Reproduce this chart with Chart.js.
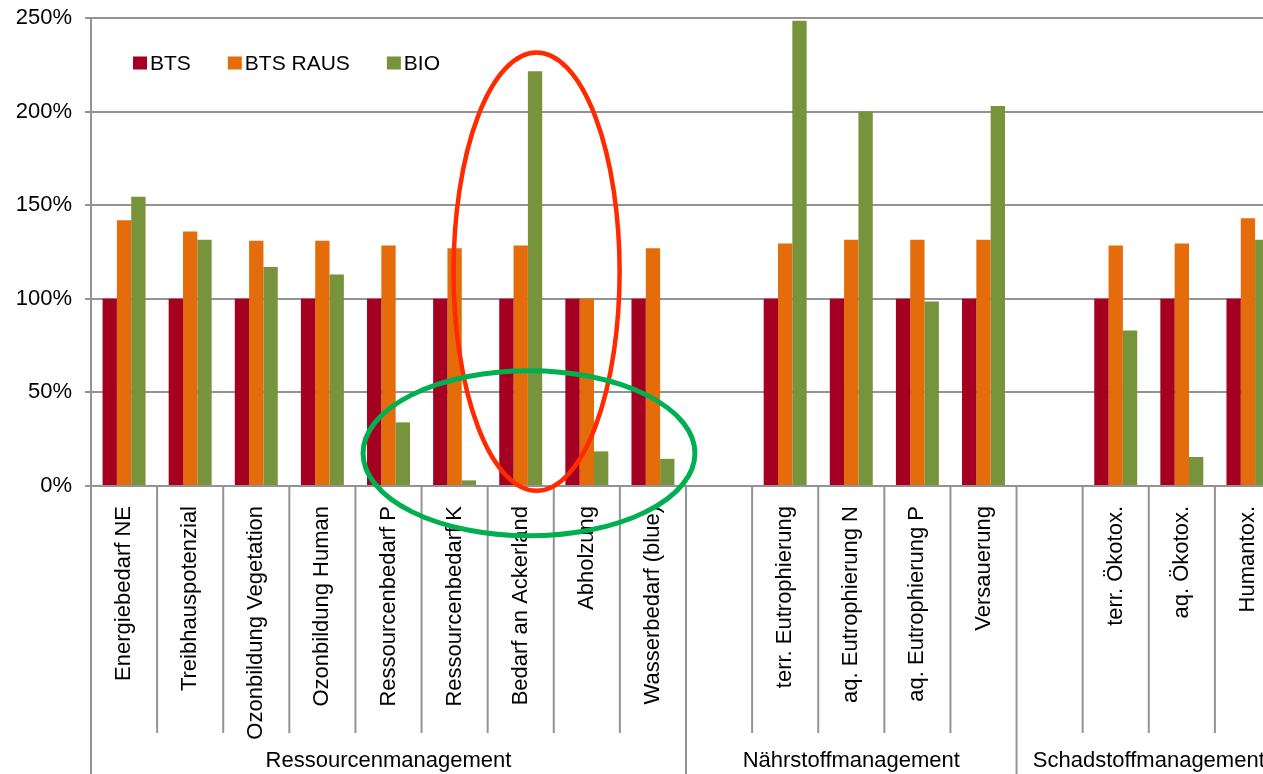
<!DOCTYPE html>
<html>
<head>
<meta charset="utf-8">
<script src="https://cdn.jsdelivr.net/npm/chart.js@4.4.1/dist/chart.umd.min.js"></script>
<style>
  html, body { margin: 0; padding: 0; background: #fff; overflow: hidden; }
  #wrap { width: 1300px; height: 774px; }
</style>
</head>
<body>
<div id="wrap"><canvas id="c" width="1300" height="774"></canvas></div>
<script>
// Impact categories (empty strings are spacer columns between the groups)
const categories = [
  'Energiebedarf NE', 'Treibhauspotenzial', 'Ozonbildung Vegetation', 'Ozonbildung Human',
  'Ressourcenbedarf P', 'Ressourcenbedarf K', 'Bedarf an Ackerland', 'Abholzung',
  'Wasserbedarf (blue)', '',
  'terr. Eutrophierung', 'aq. Eutrophierung N', 'aq. Eutrophierung P', 'Versauerung', '',
  'terr. Ökotox.', 'aq. Ökotox.', 'Humantox.'
];

// Group headings and how many columns each one spans
const groupNames = ['Ressourcenmanagement', 'Nährstoffmanagement', 'Schadstoffmanagement'];
const groupSizes = [9, 5, 4];

const seriesNames = ['BTS', 'BTS RAUS', 'BIO'];
const seriesColors = ['#A50021', '#E46C0A', '#77933C'];

// Values in % relative to BTS
const valuesBTS = [100, 100, 100, 100, 100, 100, 100, 100, 100, null, 100, 100, 100, 100, null, 100, 100, 100];
const valuesBTSRaus = [142, 136, 131, 131, 128.5, 127, 128.5, 100, 127, null, 129.5, 131.5, 131.5, 131.5, null, 128.5, 129.5, 143];
const valuesBIO = [154.5, 131.5, 117, 113, 34, 3, 221.5, 18.5, 14.5, null, 248.5, 200, 98.5, 203, null, 83, 15.5, 131.5];

// y-axis ticks
const yTicks = [0, 50, 100, 150, 200, 250];

// Highlight ellipses: centre (column index, %), radii (columns, %)
const highlights = [
  { cx: 6.24, cy: 114.5, rx: 1.256, ry: 117.1, color: '#FF2A00', width: 4.5 },
  { cx: 6.125, cy: 17.5, rx: 2.51, ry: 44.1, color: '#00B050', width: 5 }
];

const FONT = 'Liberation Sans, Arial, sans-serif';
const GRID = '#939393';

// Draws the column separators, group headings, in-plot legend and ellipses
const decorations = {
  id: 'decorations',
  afterDraw(chart) {
    const ctx = chart.ctx;
    const x = chart.scales.x, y = chart.scales.y;
    const area = chart.chartArea;
    const step = (x.right - x.left) / categories.length;
    const bottom = chart.height;
    const shortEnd = bottom - 41;

    ctx.save();
    ctx.strokeStyle = GRID;
    ctx.lineWidth = 2;

    // y axis continues down through the label area
    ctx.beginPath();
    ctx.moveTo(area.left, area.bottom);
    ctx.lineTo(area.left, bottom);
    ctx.stroke();

    // group boundaries (long) and column boundaries (short)
    const groupEdges = new Set();
    let acc = 0;
    groupSizes.forEach(n => { acc += n; groupEdges.add(acc); });
    for (let i = 1; i <= categories.length; i++) {
      const px = x.getPixelForValue(i) - step / 2;
      ctx.beginPath();
      ctx.moveTo(px, area.bottom);
      ctx.lineTo(px, groupEdges.has(i) ? bottom : shortEnd);
      ctx.stroke();
    }

    // group headings
    ctx.fillStyle = '#000';
    ctx.font = '22px ' + FONT;
    ctx.textAlign = 'center';
    ctx.textBaseline = 'middle';
    let start = 0;
    groupSizes.forEach((n, g) => {
      const left = x.getPixelForValue(start) - step / 2;
      const right = x.getPixelForValue(start + n - 1) + step / 2;
      ctx.fillText(groupNames[g], (left + right) / 2, bottom - 13);
      start += n;
    });

    // legend inside the plot area
    ctx.font = '21px ' + FONT;
    ctx.textAlign = 'left';
    let lx = area.left + 42;
    const ly = area.top + 45;
    chart.data.datasets.forEach(ds => {
      ctx.fillStyle = ds.backgroundColor;
      ctx.fillRect(lx, ly - 6.5, 14, 13);
      ctx.fillStyle = '#000';
      ctx.fillText(ds.label, lx + 17, ly + 1);
      lx += 17 + ctx.measureText(ds.label).width + 37;
    });

    // highlight ellipses
    highlights.forEach(h => {
      const cx = x.getPixelForValue(0) + h.cx * step;
      const cy = y.getPixelForValue(h.cy);
      const rx = h.rx * step;
      const ry = Math.abs(y.getPixelForValue(h.ry) - y.getPixelForValue(0));
      ctx.beginPath();
      ctx.ellipse(cx, cy, rx, ry, 0, 0, Math.PI * 2);
      ctx.strokeStyle = h.color;
      ctx.lineWidth = h.width;
      ctx.stroke();
    });
    ctx.restore();
  }
};

const seriesValues = [valuesBTS, valuesBTSRaus, valuesBIO];

new Chart(document.getElementById('c'), {
  type: 'bar',
  data: {
    labels: categories,
    datasets: seriesNames.map((name, i) => ({
      label: name,
      data: seriesValues[i],
      backgroundColor: seriesColors[i],
      borderWidth: 0,
      categoryPercentage: 0.65,
      barPercentage: 1.0
    }))
  },
  options: {
    responsive: false,
    animation: false,
    layout: { padding: { top: 18, right: 19, left: 0, bottom: 0 } },
    plugins: { legend: { display: false }, tooltip: { enabled: false } },
    scales: {
      x: {
        grid: { display: false },
        border: { display: false },
        ticks: {
          autoSkip: false,
          minRotation: 90,
          maxRotation: 90,
          padding: 12,
          color: '#000',
          font: { family: FONT, size: 22 }
        },
        afterFit(scale) { scale.height = 288; scale.paddingLeft = 0; scale.paddingRight = 0; }
      },
      y: {
        min: 0,
        max: 250,
        afterBuildTicks(scale) { scale.ticks = yTicks.map(v => ({ value: v })); },
        grid: { color: GRID, lineWidth: 2, drawTicks: true, tickLength: 6 },
        border: { color: GRID, width: 2 },
        ticks: {
          padding: 13,
          color: '#000',
          font: { family: FONT, size: 22 },
          callback: v => v + '%'
        },
        afterFit(scale) { scale.width = 91; scale.paddingTop = 0; scale.paddingBottom = 0; }
      }
    }
  },
  plugins: [decorations]
});
</script>
</body>
</html>
